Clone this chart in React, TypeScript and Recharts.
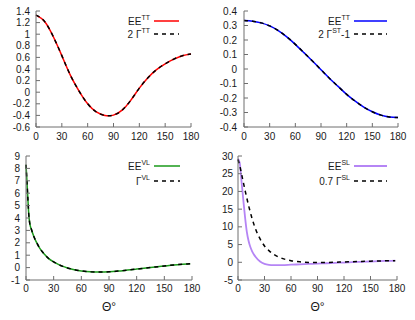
import React from 'react';
import { LineChart, Line, XAxis, YAxis, Legend } from 'recharts';

// ---------- data ----------
const thetaTicks = [0, 30, 60, 90, 120, 150, 180];

// top-left panel
const thetaTL = [0, 10, 20, 30, 40, 50, 60, 70, 80, 90, 100, 110, 120, 130, 140, 150, 160, 170, 180];
const eeTT = [1.33, 1.22, 0.96, 0.63, 0.29, 0.02, -0.2, -0.34, -0.4, -0.395, -0.31, -0.14, 0.07, 0.25, 0.39, 0.49, 0.57, 0.63, 0.66];
const twoGammaTT = [1.33, 1.22, 0.96, 0.63, 0.29, 0.02, -0.2, -0.34, -0.4, -0.395, -0.31, -0.14, 0.07, 0.25, 0.39, 0.49, 0.57, 0.63, 0.66];
const yTicksTL = [-0.6, -0.4, -0.2, 0, 0.2, 0.4, 0.6, 0.8, 1, 1.2, 1.4];

// top-right panel
const thetaTR = [0, 10, 20, 30, 40, 50, 60, 70, 80, 90, 100, 110, 120, 130, 140, 150, 160, 170, 180];
const eeTT2 = [0.335, 0.33, 0.318, 0.297, 0.265, 0.222, 0.17, 0.113, 0.055, -0.005, -0.065, -0.12, -0.175, -0.222, -0.263, -0.295, -0.318, -0.331, -0.335];
const twoGammaST1 = [0.335, 0.33, 0.318, 0.297, 0.265, 0.222, 0.17, 0.113, 0.055, -0.005, -0.065, -0.12, -0.175, -0.222, -0.263, -0.295, -0.318, -0.331, -0.335];
const yTicksTR = [-0.4, -0.3, -0.2, -0.1, 0, 0.1, 0.2, 0.3, 0.4];

// bottom-left panel
const thetaBL = [0, 1, 2, 3, 4, 6, 8, 10, 12, 15, 20, 25, 30, 35, 40, 45, 50, 60, 70, 80, 90, 100, 110, 120, 130, 140, 150, 160, 170, 178];
const eeVL = [8.3, 7.0, 5.6, 4.3, 3.6, 3.05, 2.6, 2.25, 1.95, 1.55, 1.08, 0.7, 0.46, 0.26, 0.1, -0.03, -0.13, -0.27, -0.34, -0.36, -0.34, -0.28, -0.2, -0.12, -0.04, 0.05, 0.13, 0.21, 0.27, 0.31];
const gammaVL = [8.3, 7.0, 5.6, 4.3, 3.6, 3.05, 2.6, 2.25, 1.95, 1.55, 1.08, 0.7, 0.46, 0.26, 0.1, -0.03, -0.13, -0.27, -0.34, -0.36, -0.34, -0.28, -0.2, -0.12, -0.04, 0.05, 0.13, 0.21, 0.27, 0.31];
const yTicksBL = [-1, 0, 1, 2, 3, 4, 5, 6, 7, 8, 9];

// bottom-right panel
const thetaBR = [0, 2, 4, 6, 8, 10, 12, 14, 16, 18, 20, 25, 30, 35, 40, 50, 60, 70, 80, 90, 100, 110, 120, 130, 140, 150, 160, 170, 178];
const eeSL = [29.2, 28.0, 22.8, 17.6, 12.7, 8.6, 6.0, 4.3, 3.1, 2.2, 1.5, 0.2, -0.45, -0.72, -0.8, -0.78, -0.68, -0.58, -0.47, -0.37, -0.27, -0.17, -0.07, 0.03, 0.13, 0.22, 0.32, 0.4, 0.45];
const gammaSL07 = [29.0, 27.2, 25.0, 22.6, 20.3, 18.1, 16.0, 14.1, 12.3, 10.7, 9.3, 6.6, 4.6, 3.3, 2.3, 1.1, 0.45, 0.12, -0.03, -0.08, -0.05, 0.02, 0.1, 0.17, 0.25, 0.32, 0.38, 0.42, 0.44];
const yTicksBR = [-5, 0, 5, 10, 15, 20, 25, 30];

// ---------- styling ----------
const FONT = "'Liberation Sans', Arial, Helvetica, sans-serif";
const FRAME = '#6e6e6e';
const TEXT = '#1a1a1a';

const fmt = (v: number) => String(Math.round(v * 10) / 10);

type Entry = { base: string; sup: string; tail?: string; color: string; dashed: boolean; width: number };

function KeyBox(props: {
  width: number; height: number; entries: Entry[]; textX: number; lineX1: number; lineX2: number; rowY: number[];
}) {
  const { width, height, entries, textX, lineX1, lineX2, rowY } = props;
  return (
    <svg width={width} height={height} style={{ display: 'block', pointerEvents: 'none' }}>
      {entries.map((e, i) => {
        const y = rowY[i];
        return (
          <g key={i}>
            <text x={textX} y={y + 3.5} textAnchor="end" fontSize={10} fontFamily={FONT} fill={TEXT}>
              <tspan>{e.base}</tspan>
              <tspan dy={-4.5} fontSize={7}>{e.sup}</tspan>
              {e.tail ? <tspan dy={4.5}>{e.tail}</tspan> : null}
            </text>
            <line x1={lineX1} x2={lineX2} y1={y} y2={y} stroke={e.color} strokeWidth={e.width}
              strokeDasharray={e.dashed ? '4 4' : undefined} />
          </g>
        );
      })}
    </svg>
  );
}

type Series = { key: string; color: string; dashed: boolean; width: number };

function Panel(props: {
  left: number; top: number; width: number; height: number;
  margin: { top: number; right: number; bottom: number; left: number };
  yWidth: number; xHeight: number; xTickMargin: number; yTickMargin: number;
  data: any[]; yDomain: [number, number]; yTicks: number[]; curve: 'natural' | 'monotone';
  series: Series[]; entries: Entry[]; textX: number; lineX1: number; lineX2: number; rowY: number[];
  xLabel?: string;
}) {
  const p = props;
  return (
    <div style={{ position: 'absolute', left: p.left, top: p.top, width: p.width, height: p.height }}>
      <LineChart width={p.width} height={p.height} data={p.data} margin={p.margin}>
        <XAxis dataKey="theta" type="number" domain={[0, 180]} ticks={thetaTicks} interval={0}
          height={p.xHeight} tickSize={-4} tickMargin={p.xTickMargin} stroke={FRAME}
          tick={{ fill: TEXT, fontSize: 10, fontFamily: FONT }}
          label={p.xLabel ? { value: p.xLabel, position: 'insideBottom', offset: 9, fill: TEXT, fontSize: 12, fontFamily: FONT } : undefined} />
        <XAxis xAxisId="top" orientation="top" type="number" domain={[0, 180]} ticks={thetaTicks} interval={0}
          height={0} tickSize={-4} tick={false} stroke={FRAME} />
        <YAxis type="number" domain={p.yDomain} ticks={p.yTicks} interval={0} width={p.yWidth}
          tickSize={-4} tickMargin={p.yTickMargin} tickFormatter={fmt} stroke={FRAME}
          tick={{ fill: TEXT, fontSize: 10, fontFamily: FONT }} />
        <YAxis yAxisId="right" orientation="right" type="number" domain={p.yDomain} ticks={p.yTicks} interval={0}
          width={0} tickSize={-4} tick={false} stroke={FRAME} />
        {p.series.map((s) => (
          <Line key={s.key} dataKey={s.key} type={p.curve} stroke={s.color} strokeWidth={s.width} dot={false}
            strokeDasharray={s.dashed ? '4 4' : undefined} isAnimationActive={false} />
        ))}
        <Legend layout="horizontal" verticalAlign="middle" align="center"
          wrapperStyle={{ left: 0, top: 0, width: p.width, height: p.height, pointerEvents: 'none' }}
          content={() => (
            <KeyBox width={p.width} height={p.height} entries={p.entries} textX={p.textX}
              lineX1={p.lineX1} lineX2={p.lineX2} rowY={p.rowY} />
          )} />
      </LineChart>
    </div>
  );
}

const dataTL = thetaTL.map((t, i) => ({ theta: t, ee: eeTT[i], g: twoGammaTT[i] }));
const dataTR = thetaTR.map((t, i) => ({ theta: t, ee: eeTT2[i], g: twoGammaST1[i] }));
const dataBL = thetaBL.map((t, i) => ({ theta: t, ee: eeVL[i], g: gammaVL[i] }));
const dataBR = thetaBR.map((t, i) => ({ theta: t, ee: eeSL[i], g: gammaSL07[i] }));

const RED = '#ff0000';
const BLUE = '#0000ff';
const GREEN = '#1a9a1a';
const PURPLE = '#b585f5';
const BLACK = '#000000';

export default function App() {
  return (
    <div style={{ position: 'absolute', left: 0, top: 0, width: 415, height: 320, background: '#fff', overflow: 'hidden' }}>
      <Panel left={0} top={0} width={207} height={150}
        margin={{ top: 11, right: 16, bottom: 0, left: 0 }} yWidth={36} xHeight={23}
        xTickMargin={10} yTickMargin={10} curve="natural"
        data={dataTL} yDomain={[-0.6, 1.4]} yTicks={yTicksTL}
        series={[{ key: 'ee', color: RED, dashed: false, width: 1.5 }, { key: 'g', color: BLACK, dashed: true, width: 1.5 }]}
        entries={[
          { base: 'EE', sup: 'TT', color: RED, dashed: false, width: 1.5 },
          { base: '2 Γ', sup: 'TT', color: BLACK, dashed: true, width: 1.5 },
        ]}
        textX={150} lineX1={154} lineX2={179} rowY={[21, 34]} />
      <Panel left={207} top={0} width={208} height={150}
        margin={{ top: 11, right: 17, bottom: 0, left: 0 }} yWidth={37} xHeight={23}
        xTickMargin={10} yTickMargin={11} curve="natural"
        data={dataTR} yDomain={[-0.4, 0.4]} yTicks={yTicksTR}
        series={[{ key: 'ee', color: BLUE, dashed: false, width: 1.5 }, { key: 'g', color: BLACK, dashed: true, width: 1.5 }]}
        entries={[
          { base: 'EE', sup: 'TT', color: BLUE, dashed: false, width: 1.5 },
          { base: '2 Γ', sup: 'ST', tail: '-1', color: BLACK, dashed: true, width: 1.5 },
        ]}
        textX={143} lineX1={147} lineX2={180} rowY={[21, 34]} />
      <Panel left={0} top={150} width={207} height={170}
        margin={{ top: 6, right: 15, bottom: 0, left: 0 }} yWidth={26} xHeight={40}
        xTickMargin={9} yTickMargin={10} curve="monotone"
        data={dataBL} yDomain={[-1, 9]} yTicks={yTicksBL}
        series={[{ key: 'ee', color: GREEN, dashed: false, width: 1.5 }, { key: 'g', color: BLACK, dashed: true, width: 1.5 }]}
        entries={[
          { base: 'EE', sup: 'VL', color: GREEN, dashed: false, width: 1.5 },
          { base: 'Γ', sup: 'VL', color: BLACK, dashed: true, width: 1.5 },
        ]}
        textX={150} lineX1={154} lineX2={180} rowY={[16, 31]} xLabel="Θ°" />
      <Panel left={207} top={150} width={208} height={170}
        margin={{ top: 6, right: 18, bottom: 0, left: 0 }} yWidth={31} xHeight={40}
        xTickMargin={9} yTickMargin={9} curve="monotone"
        data={dataBR} yDomain={[-5, 30]} yTicks={yTicksBR}
        series={[{ key: 'ee', color: PURPLE, dashed: false, width: 1.8 }, { key: 'g', color: BLACK, dashed: true, width: 1.5 }]}
        entries={[
          { base: 'EE', sup: 'SL', color: PURPLE, dashed: false, width: 1.8 },
          { base: '0.7 Γ', sup: 'SL', color: BLACK, dashed: true, width: 1.5 },
        ]}
        textX={143} lineX1={147} lineX2={180} rowY={[16, 31]} xLabel="Θ°" />
    </div>
  );
}
